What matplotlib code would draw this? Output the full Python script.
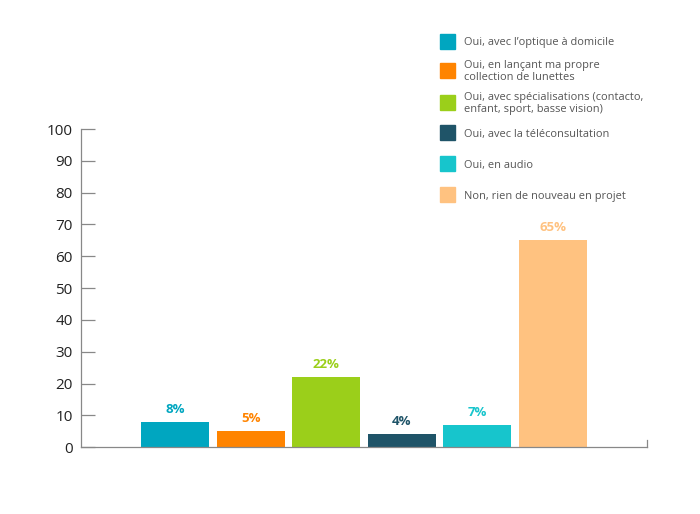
import matplotlib.pyplot as plt
from matplotlib.patches import Rectangle

plt.rcParams['font.family'] = ['Open Sans', 'DejaVu Sans']

labels = ["Oui, avec l\u2019optique \u00e0 domicile",
          "Oui, en lan\u00e7ant ma propre\ncollection de lunettes",
          "Oui, avec sp\u00e9cialisations (contacto,\nenfant, sport, basse vision)",
          "Oui, avec la t\u00e9l\u00e9consultation",
          "Oui, en audio",
          "Non, rien de nouveau en projet"]
values = [8, 5, 22, 4, 7, 65]
colors = ['#00A6C0', '#FF8400', '#9BCF1A', '#1F5468', '#17C5CC', '#FFC280']
yticks = [0, 10, 20, 30, 40, 50, 60, 70, 80, 90, 100]

fig = plt.figure(figsize=(7, 5.14), dpi=100)
ax = fig.add_axes([0.1157, 0.130, 0.8086, 0.619])

x = list(range(len(values)))
ax.bar(x, values, width=0.9, color=colors)
for xi, v, c in zip(x, values, colors):
    ax.text(xi, v + 4, f"{v}%", ha='center', va='center', color=c,
            fontsize=9.5, fontweight='bold')

ax.set_xlim(-1.245, 6.245)
ax.set_ylim(0, 100)
ax.set_yticks(yticks)
ax.set_xticks([])
ax.tick_params(axis='y', direction='in', length=10, width=0.9, color='#888888',
               labelsize=11, labelcolor='#222222', pad=6)
for s in ['top', 'right']:
    ax.spines[s].set_visible(False)
for s in ['left', 'bottom']:
    ax.spines[s].set_color('#888888')
    ax.spines[s].set_linewidth(0.9)
ax.axvline(6.245, ymax=0.022, color='#888888', lw=0.9, clip_on=False)

# legend drawn by hand, rows at fixed spacing
W, H = 700, 514
row_y = [41, 70, 102, 133, 164, 195]
for yy, lab, c in zip(row_y, labels, colors):
    fig.patches.append(Rectangle((440 / W, 1 - (yy + 7.5) / H), 15 / W, 15 / H,
                                 transform=fig.transFigure, color=c))
    fig.text(464 / W, 1 - (yy + 1.5) / H, lab, ha='left', va='center', fontsize=7.9,
             color='#555555', linespacing=1.15)

fig.savefig('out.png', dpi=100)
